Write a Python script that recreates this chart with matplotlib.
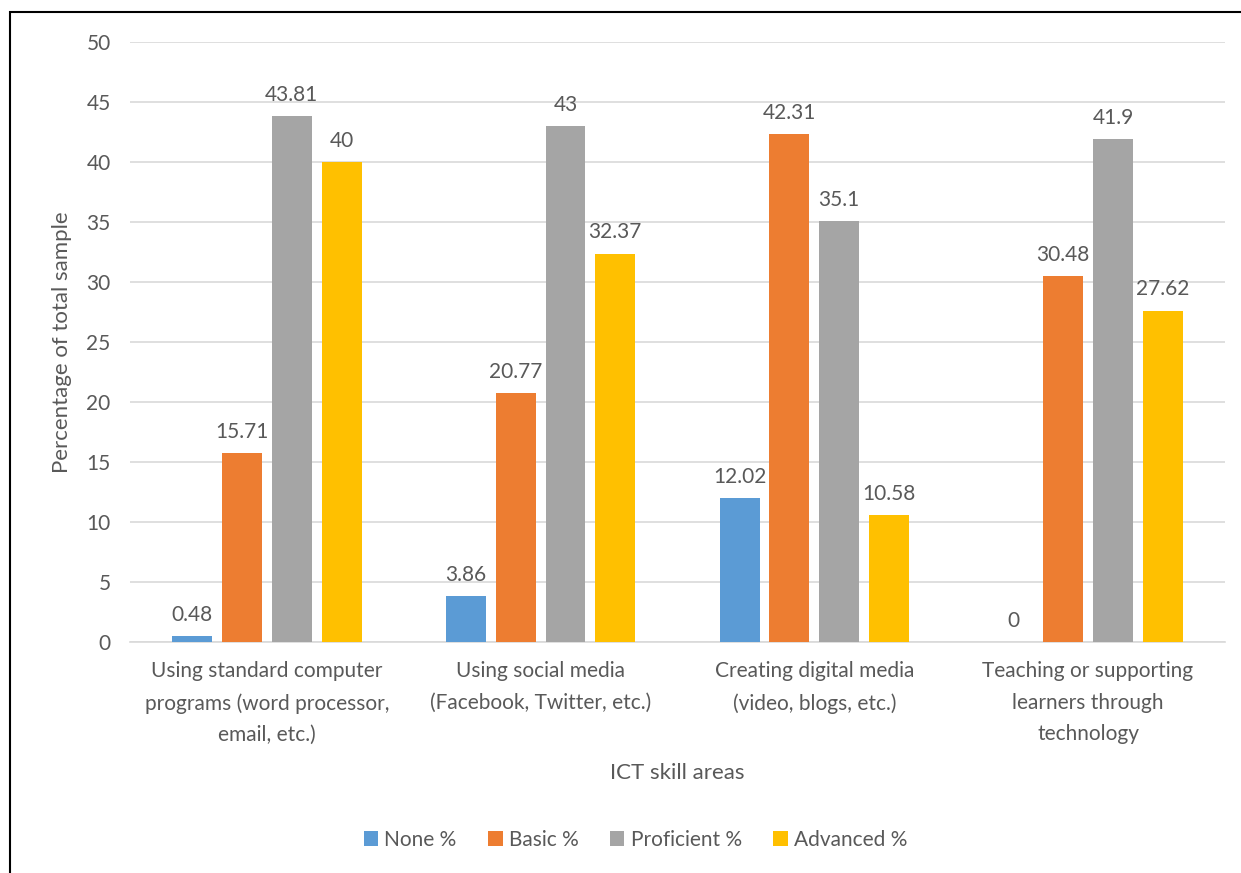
import matplotlib.pyplot as plt
import numpy as np
from matplotlib.patches import Rectangle

plt.rcParams['font.family'] = ['Lato', 'DejaVu Sans']

categories = ['Using standard computer\nprograms (word processor,\nemail, etc.)',
              'Using social media\n(Facebook, Twitter, etc.)',
              'Creating digital media\n(video, blogs, etc.)',
              'Teaching or supporting\nlearners through\ntechnology']
series_names = ['None %', 'Basic %', 'Proficient %', 'Advanced %']
none_vals = [0.48, 3.86, 12.02, 0]
basic_vals = [15.71, 20.77, 42.31, 30.48]
proficient_vals = [43.81, 43, 35.1, 41.9]
advanced_vals = [40, 32.37, 10.58, 27.62]
value_labels = [['0.48', '3.86', '12.02', '0'],
                ['15.71', '20.77', '42.31', '30.48'],
                ['43.81', '43', '35.1', '41.9'],
                ['40', '32.37', '10.58', '27.62']]

colors = ['#5B9BD5', '#ED7D31', '#A5A5A5', '#FFC000']
text_col = '#595959'

fig = plt.figure(figsize=(12.41, 8.73), dpi=100)
ax = fig.add_axes([0.1048, 0.2646, 0.8822, 0.6873])

x = np.arange(len(categories))
step = 0.182
width = 0.146
all_vals = [none_vals, basic_vals, proficient_vals, advanced_vals]
for i, (vals, name) in enumerate(zip(all_vals, series_names)):
    pos = x + (i - 1.5) * step
    bars = ax.bar(pos, vals, width, color=colors[i], label=name, zorder=3)
    for b, lab in zip(bars, value_labels[i]):
        ax.annotate(lab, (b.get_x() + b.get_width() / 2, b.get_height()),
                    xytext=(0, 8), textcoords='offset points',
                    ha='center', va='bottom', fontsize=15, color=text_col)

ax.set_xlim(-0.5, 3.5)
ax.set_ylim(0, 50)
ax.set_yticks(range(0, 51, 5))
ax.set_xticks(x)
ax.set_xticklabels(categories, fontsize=15, color=text_col, linespacing=1.7)
ax.tick_params(axis='y', labelsize=15, labelcolor=text_col, length=0, pad=14)
ax.tick_params(axis='x', length=0, pad=14)
ax.grid(axis='y', color='#D9D9D9', linewidth=1.2, zorder=0)
for s in ['top', 'right', 'left']:
    ax.spines[s].set_visible(False)
ax.spines['bottom'].set_color('#D9D9D9')
ax.spines['bottom'].set_linewidth(1.2)

ax.set_ylabel('Percentage of total sample', fontsize=16, color=text_col, labelpad=10)
ax.set_xlabel('ICT skill areas', fontsize=16, color=text_col, labelpad=13)

fig.legend(loc='center', bbox_to_anchor=(0.512, 0.038), ncol=4, frameon=False,
           fontsize=15, labelcolor=text_col, handlelength=0.7, handleheight=0.7,
           handletextpad=0.3, columnspacing=1.5)

fig.patches.append(Rectangle((10 / 1241, -0.1), 1.2, 1 - 12 / 873 + 0.1,
                             transform=fig.transFigure, fill=False,
                             edgecolor='black', linewidth=1.5))

fig.savefig('out.png', dpi=100)
